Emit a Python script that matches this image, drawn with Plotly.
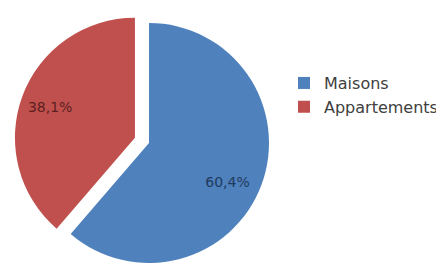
import plotly.graph_objects as go

labels = ["Maisons", "Appartements"]
values = [60.4, 38.1]
value_text = ["60,4%", "38,1%"]
colors = ["#4F81BD", "#C0504D"]
text_colors = ["#1F3A5F", "#5C1F1E"]
pulls = [0, 0.125]

NB = "\u00a0"
# padding (non-breaking spaces / blank lines) nudges the labels outward like the original
label_text = [
    NB + "<br>" + NB + "<br>" + NB * 10 + value_text[0],
    value_text[1] + NB * 12 + "<br>" + NB,
]

fig = go.Figure(
    go.Pie(
        labels=labels,
        values=values,
        text=label_text,
        textinfo="text",
        textposition="inside",
        insidetextorientation="horizontal",
        textfont=dict(family="DejaVu Sans, sans-serif", size=14, color=text_colors),
        marker=dict(colors=colors, line=dict(width=0)),
        sort=False,
        direction="clockwise",
        rotation=0,
        pull=pulls,
        hole=0,
        domain=dict(x=[0, 282 / 444], y=[0, 1]),
        hoverinfo="label+text",
    )
)

fig.update_layout(
    width=444,
    height=270,
    margin=dict(l=0, r=0, t=0, b=0),
    paper_bgcolor="white",
    plot_bgcolor="white",
    showlegend=True,
    legend=dict(
        x=0.6216,
        y=0.785,
        xanchor="left",
        yanchor="top",
        font=dict(family="DejaVu Sans, sans-serif", size=16, color="#404040"),
        itemwidth=30,
    ),
)

fig.write_html("out.html")
